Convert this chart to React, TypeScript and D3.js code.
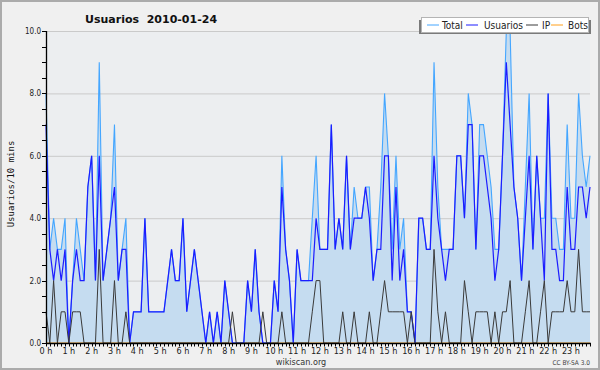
import React from 'react';
import * as d3 from 'd3';

const totals = [8,3,4,3,3,4,0,2,4,3,2,5,6,2,9,2,3,4,7,2,3,4,0,1,1,1,4,1,1,1,1,1,2,3,2,2,4,1,2,3,2,1,0,1,0,1,0,2,1,0,0,0,0,2,1,3,1,0,0,0,2,1,6,3,2,0,3,2,2,2,4,6,3,3,3,7,3,4,3,6,3,5,4,4,5,5,2,3,5,8,6,3,6,3,4,1,1,0,4,4,3,3,9,5,3,3,3,3,6,6,4,8,7,3,7,7,6,5,3,3,6,10,10,5,4,2,5,8,3,6,4,4,8,4,4,3,3,7,4,4,8,6,5,6];
const usuarios = [7,3,2,3,2,3,0,2,3,2,2,5,6,2,6,2,3,4,5,2,3,3,0,1,1,1,4,1,1,1,1,1,2,3,2,2,4,1,2,3,2,1,0,1,0,1,0,2,1,0,0,0,0,2,1,3,1,0,0,0,2,1,5,3,2,0,3,2,2,2,2,4,3,3,3,7,3,4,3,6,3,4,4,4,5,4,2,3,3,6,6,2,5,2,3,1,1,0,4,4,3,3,6,4,3,2,3,3,6,6,4,7,7,3,6,6,5,4,2,3,6,9,7,5,4,2,4,6,3,6,4,2,8,3,3,2,2,5,3,3,5,5,4,5];
const ips = [1,0,2,0,1,1,0,1,1,1,0,0,0,0,3,0,0,0,2,0,0,1,0,0,0,0,0,0,0,0,0,0,0,0,0,0,0,0,0,0,0,0,0,0,0,0,0,0,0,1,0,0,0,0,0,0,0,1,0,0,0,0,1,0,0,0,0,0,0,0,1,2,2,0,0,0,0,0,1,0,0,1,0,0,0,1,0,0,1,2,1,1,1,1,1,0,1,0,0,0,0,0,3,1,0,1,0,0,0,0,2,1,0,1,1,1,1,0,1,0,1,1,2,0,0,0,1,2,0,0,1,2,0,1,1,1,1,2,1,1,3,1,1,1];
const bots = [0,0,0,0,0,0,0,0,0,0,0,0,0,0,0,0,0,0,0,0,0,0,0,0,0,0,0,0,0,0,0,0,0,0,0,0,0,0,0,0,0,0,0,0,0,0,0,0,0,0,0,0,0,0,0,0,0,0,0,0,0,0,0,0,0,0,0,0,0,0,0,0,0,0,0,0,0,0,0,0,0,0,0,0,0,0,0,0,0,0,0,0,0,0,0,0,0,0,0,0,0,0,0,0,0,0,0,0,0,0,0,0,0,0,0,0,0,0,0,0,0,0,0,0,0,0,0,0,0,0,0,0,0,0,0,0,0,0,0,0,0,0,0,0];
const hourLabels = ['0 h','1 h','2 h','3 h','4 h','5 h','6 h','7 h','8 h','9 h','10 h','11 h','12 h','13 h','14 h','15 h','16 h','17 h','18 h','19 h','20 h','21 h','22 h','23 h'];
const yLabelValues = [0, 2, 4, 6, 8, 10];
const seriesNames = ['Total', 'Usuarios', 'IP', 'Bots'];
const seriesColors = ['#44a6ff', '#1c1cff', '#3a3a3a', '#ffa01c'];

const W = 600, H = 370;
const X0 = 46, X1 = 590, Y0 = 343, Y1 = 31;
const COND = "'DejaVu Sans Condensed', 'DejaVu Sans', sans-serif";

export default function App() {
  const x = d3.scaleLinear().domain([0, 143]).range([X0, X1]);
  const y = d3.scaleLinear().domain([0, 10]).range([Y0, Y1]);
  const line = d3.line<number>().x((_, i) => x(i)).y(d => y(d));
  const area = d3.area<number>().x((_, i) => x(i)).y0(y(0)).y1(d => y(d));
  const minorY = d3.range(0, 10.01, 0.5);
  const xTicks = d3.range(0, 144);
  const legendX = [427, 466, 526, 551];
  const legendTextX = [442, 484, 542, 568];
  return (
    <svg width={W} height={H} style={{ position: 'absolute', left: 0, top: 0, fontFamily: COND }}>
      <rect x={0} y={0} width={W} height={H} fill="#f0f0f0" />
      <rect x={1} y={1} width={W - 2} height={H - 2} fill="none" stroke="#ababab" strokeWidth={2} />
      <rect x={X0} y={Y1} width={X1 - X0} height={Y0 - Y1} fill="#eceef0" />
      {yLabelValues.filter(v => v > 0).map(v => (
        <line key={'g' + v} x1={X0} x2={X1} y1={y(v) + 0.5} y2={y(v) + 0.5} stroke="#cacaca" strokeWidth={1} />
      ))}
      <path d={area(totals) || ''} fill="#c5dcf0" />
      <path d={line(bots) || ''} fill="none" stroke={seriesColors[3]} strokeWidth={1} />
      <path d={line(totals) || ''} fill="none" stroke={seriesColors[0]} strokeWidth={1.1} />
      <path d={line(usuarios) || ''} fill="none" stroke={seriesColors[1]} strokeWidth={1.2} />
      <path d={line(ips) || ''} fill="none" stroke={seriesColors[2]} strokeWidth={1} />
      {/* axes */}
      <line x1={X0 + 0.5} x2={X0 + 0.5} y1={Y1} y2={Y0 + 1} stroke="#000" strokeWidth={1.3} />
      <line x1={X0} x2={X1 + 1} y1={Y0 + 0.5} y2={Y0 + 0.5} stroke="#000" strokeWidth={1.5} />
      {minorY.map(v => (
        <line key={'yt' + v} x1={X0 - 4} x2={X0} y1={Math.round(y(v)) + 0.5} y2={Math.round(y(v)) + 0.5} stroke="#000" />
      ))}
      {yLabelValues.map(v => (
        <text key={'yl' + v} x={41} y={y(v) + 3} fontSize={8} textAnchor="end" fill="#222">{v.toFixed(1)}</text>
      ))}
      {xTicks.map(i => (
        <line key={'xt' + i} x1={Math.round(x(i)) + 0.5} x2={Math.round(x(i)) + 0.5} y1={Y0} y2={Y0 + 3.5} stroke="#000" />
      ))}
      {hourLabels.map((l, h) => (
        <text key={'xl' + h} x={x(h * 6)} y={354} fontSize={9} textAnchor="middle" fill="#222">{l}</text>
      ))}
      <text x={14} y={184} fontSize={9} fontFamily="'DejaVu Sans Mono', monospace" textAnchor="middle" transform="rotate(-90 14 184)" fill="#111">Usuarios/10 mins</text>
      <text x={85} y={23} fontSize={11} fontWeight="bold" fontFamily="'DejaVu Sans', sans-serif" fill="#111" xmlSpace="preserve">{'Usuarios  2010-01-24'}</text>
      <text x={301} y={365} fontSize={9} textAnchor="middle" fill="#333">wikiscan.org</text>
      <text x={590} y={365} fontSize={6.5} textAnchor="end" fill="#444">CC BY-SA 3.0</text>
      {/* legend */}
      <rect x={419} y={20} width={172} height={14} fill="#7a7a7a" />
      <rect x={421.5} y={17.5} width={167} height={15} fill="#fff" stroke="#b4b4b4" />
      {seriesNames.map((n, k) => (
        <g key={n}>
          <line x1={legendX[k]} x2={legendX[k] + 12} y1={25} y2={25} stroke={seriesColors[k]} strokeWidth={1} />
          <text x={legendTextX[k]} y={28.5} fontSize={10} fill="#222">{n}</text>
        </g>
      ))}
    </svg>
  );
}
